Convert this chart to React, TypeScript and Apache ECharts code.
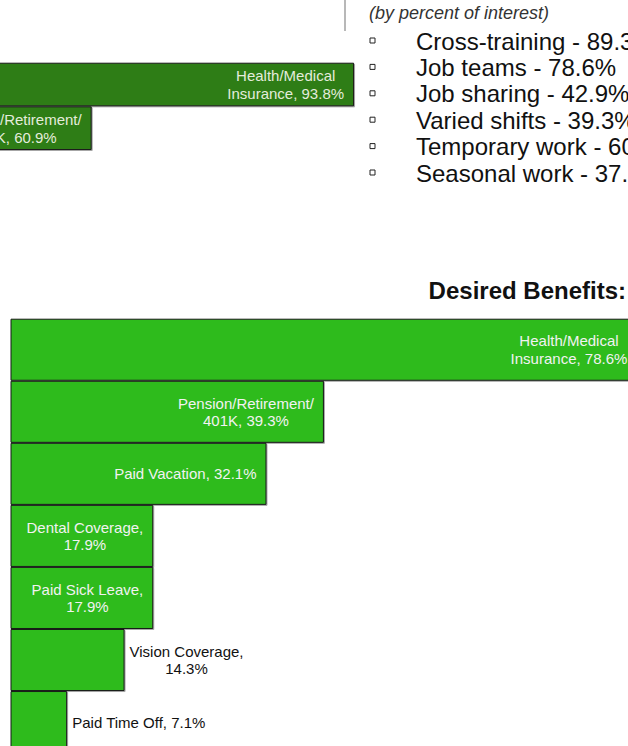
import React, { useEffect, useRef } from "react";
import * as echarts from "echarts";

// ---- data ----
const topCategories = ["Health/Medical Insurance", "Pension/Retirement/ 401K"];
const topValues = [93.8, 60.9];

const benefitCategories = [
  "Health/Medical Insurance",
  "Pension/Retirement/ 401K",
  "Paid Vacation",
  "Dental Coverage",
  "Paid Sick Leave",
  "Vision Coverage",
  "Paid Time Off",
];
const benefitValues = [78.6, 39.3, 32.1, 17.9, 17.9, 14.3, 7.1];

const interestItems = [
  "Cross-training",
  "Job teams",
  "Job sharing",
  "Varied shifts",
  "Temporary work",
  "Seasonal work",
];
const interestValues = [89.3, 78.6, 42.9, 39.3, 60.7, 37.5];

const titleText = "Desired Benefits:";
const subtitleText = "(by percent of interest)";

// ---- helpers ----
const FONT = "'Liberation Sans', Arial, Helvetica, sans-serif";
const OFFSET_X = 400; // chart canvas starts 400px left of the page

function wrap(text: string, limit: number): string[] {
  const words = text.split(" ");
  const lines: string[] = [];
  let cur = "";
  for (const w of words) {
    const next = cur ? cur + " " + w : w;
    if (next.length > limit && cur) {
      lines.push(cur);
      cur = w;
    } else {
      cur = next;
    }
  }
  if (cur) lines.push(cur);
  return lines;
}

function richLabel(name: string, value: number, style: string): string {
  return wrap(`${name}, ${value}%`, 20)
    .map((l) => `{${style}|${l}}`)
    .join("\n");
}

const richStyles = {
  w: { align: "center", color: "#f2f2f2", fontSize: 15, lineHeight: 17.5, fontFamily: FONT },
  t: { align: "center", color: "#e4ecdc", fontSize: 15, lineHeight: 18, fontFamily: FONT },
  k: { align: "center", color: "#111111", fontSize: 15, lineHeight: 17.5, fontFamily: FONT },
};

export default function App() {
  const ref = useRef<HTMLDivElement>(null);

  useEffect(() => {
    if (!ref.current) return;
    const chart = echarts.init(ref.current, null, { renderer: "svg" });

    const lowerData = benefitValues.map((v, i) => {
      const outside = v < 15;
      return {
        value: v,
        label: {
          position: outside ? "right" : "insideRight",
          distance: outside ? 5 : 10,
          formatter: richLabel(benefitCategories[i], v, outside ? "k" : "w"),
        },
      };
    });

    const topData = topValues.map((v, i) => ({
      value: v,
      label: {
        position: "insideRight",
        distance: 10,
        formatter: richLabel(topCategories[i], v, "t"),
      },
    }));

    const bulletGraphics: any[] = [];
    interestItems.forEach((item, i) => {
      const y = 41 + i * 26.4;
      bulletGraphics.push({
        type: "rect",
        shape: { x: 370 + OFFSET_X, y: y - 3, width: 5, height: 5 },
        style: { fill: "#ffffff", stroke: "#222222", lineWidth: 1 },
      });
      bulletGraphics.push({
        type: "text",
        x: 416 + OFFSET_X,
        y,
        style: {
          text: `${item} - ${interestValues[i]}%`,
          font: `24px ${FONT}`,
          fill: "#111111",
          textAlign: "left",
          textVerticalAlign: "middle",
        },
      });
    });

    chart.setOption({
      animation: false,
      backgroundColor: "#ffffff",
      grid: [
        { left: 6, width: 797.5, top: 62.7, height: 87.3, containLabel: false },
        { left: 410.5, width: 797.5, top: 318.7, height: 434.4, containLabel: false },
      ],
      xAxis: [
        { type: "value", gridIndex: 0, min: 0, max: 100, show: false },
        { type: "value", gridIndex: 1, min: 0, max: 100, show: false },
      ],
      yAxis: [
        { type: "category", gridIndex: 0, data: topCategories, inverse: true, show: false },
        { type: "category", gridIndex: 1, data: benefitCategories, inverse: true, show: false },
      ],
      series: [
        {
          type: "bar",
          xAxisIndex: 0,
          yAxisIndex: 0,
          data: topData,
          barCategoryGap: "0%",
          itemStyle: {
            color: "#2e7d15",
            borderColor: "#1a1a1a",
            borderWidth: 1,
            shadowColor: "rgba(0,0,0,0.35)",
            shadowOffsetX: 1,
            shadowOffsetY: 1,
            shadowBlur: 0,
          },
          label: { show: true, rich: richStyles },
          clip: false,
        },
        {
          type: "bar",
          xAxisIndex: 1,
          yAxisIndex: 1,
          data: lowerData,
          barCategoryGap: "0%",
          itemStyle: {
            color: "#2fbb1f",
            borderColor: "#1a1a1a",
            borderWidth: 1,
            shadowColor: "rgba(0,0,0,0.35)",
            shadowOffsetX: 1,
            shadowOffsetY: 1,
            shadowBlur: 0,
          },
          label: { show: true, rich: richStyles },
          clip: false,
        },
      ],
      graphic: [
        {
          type: "line",
          shape: { x1: 345 + OFFSET_X, y1: 0, x2: 345 + OFFSET_X, y2: 31 },
          style: { stroke: "#b8b8b8", lineWidth: 2 },
        },
        {
          type: "text",
          x: 369 + OFFSET_X,
          y: 13,
          style: {
            text: subtitleText,
            font: `italic 18px ${FONT}`,
            fill: "#333333",
            textAlign: "left",
            textVerticalAlign: "middle",
          },
        },
        ...bulletGraphics,
        {
          type: "text",
          x: 626 + OFFSET_X,
          y: 290,
          style: {
            text: titleText,
            font: `bold 24px ${FONT}`,
            fill: "#111111",
            textAlign: "right",
            textVerticalAlign: "middle",
          },
        },
      ],
    });

    return () => chart.dispose();
  }, []);

  return (
    <div
      style={{
        position: "fixed",
        left: 0,
        top: 0,
        width: 628,
        height: 746,
        overflow: "hidden",
        background: "#ffffff",
      }}
    >
      <div
        ref={ref}
        style={{ position: "absolute", left: -OFFSET_X, top: 0, width: 1300, height: 800 }}
      />
    </div>
  );
}
